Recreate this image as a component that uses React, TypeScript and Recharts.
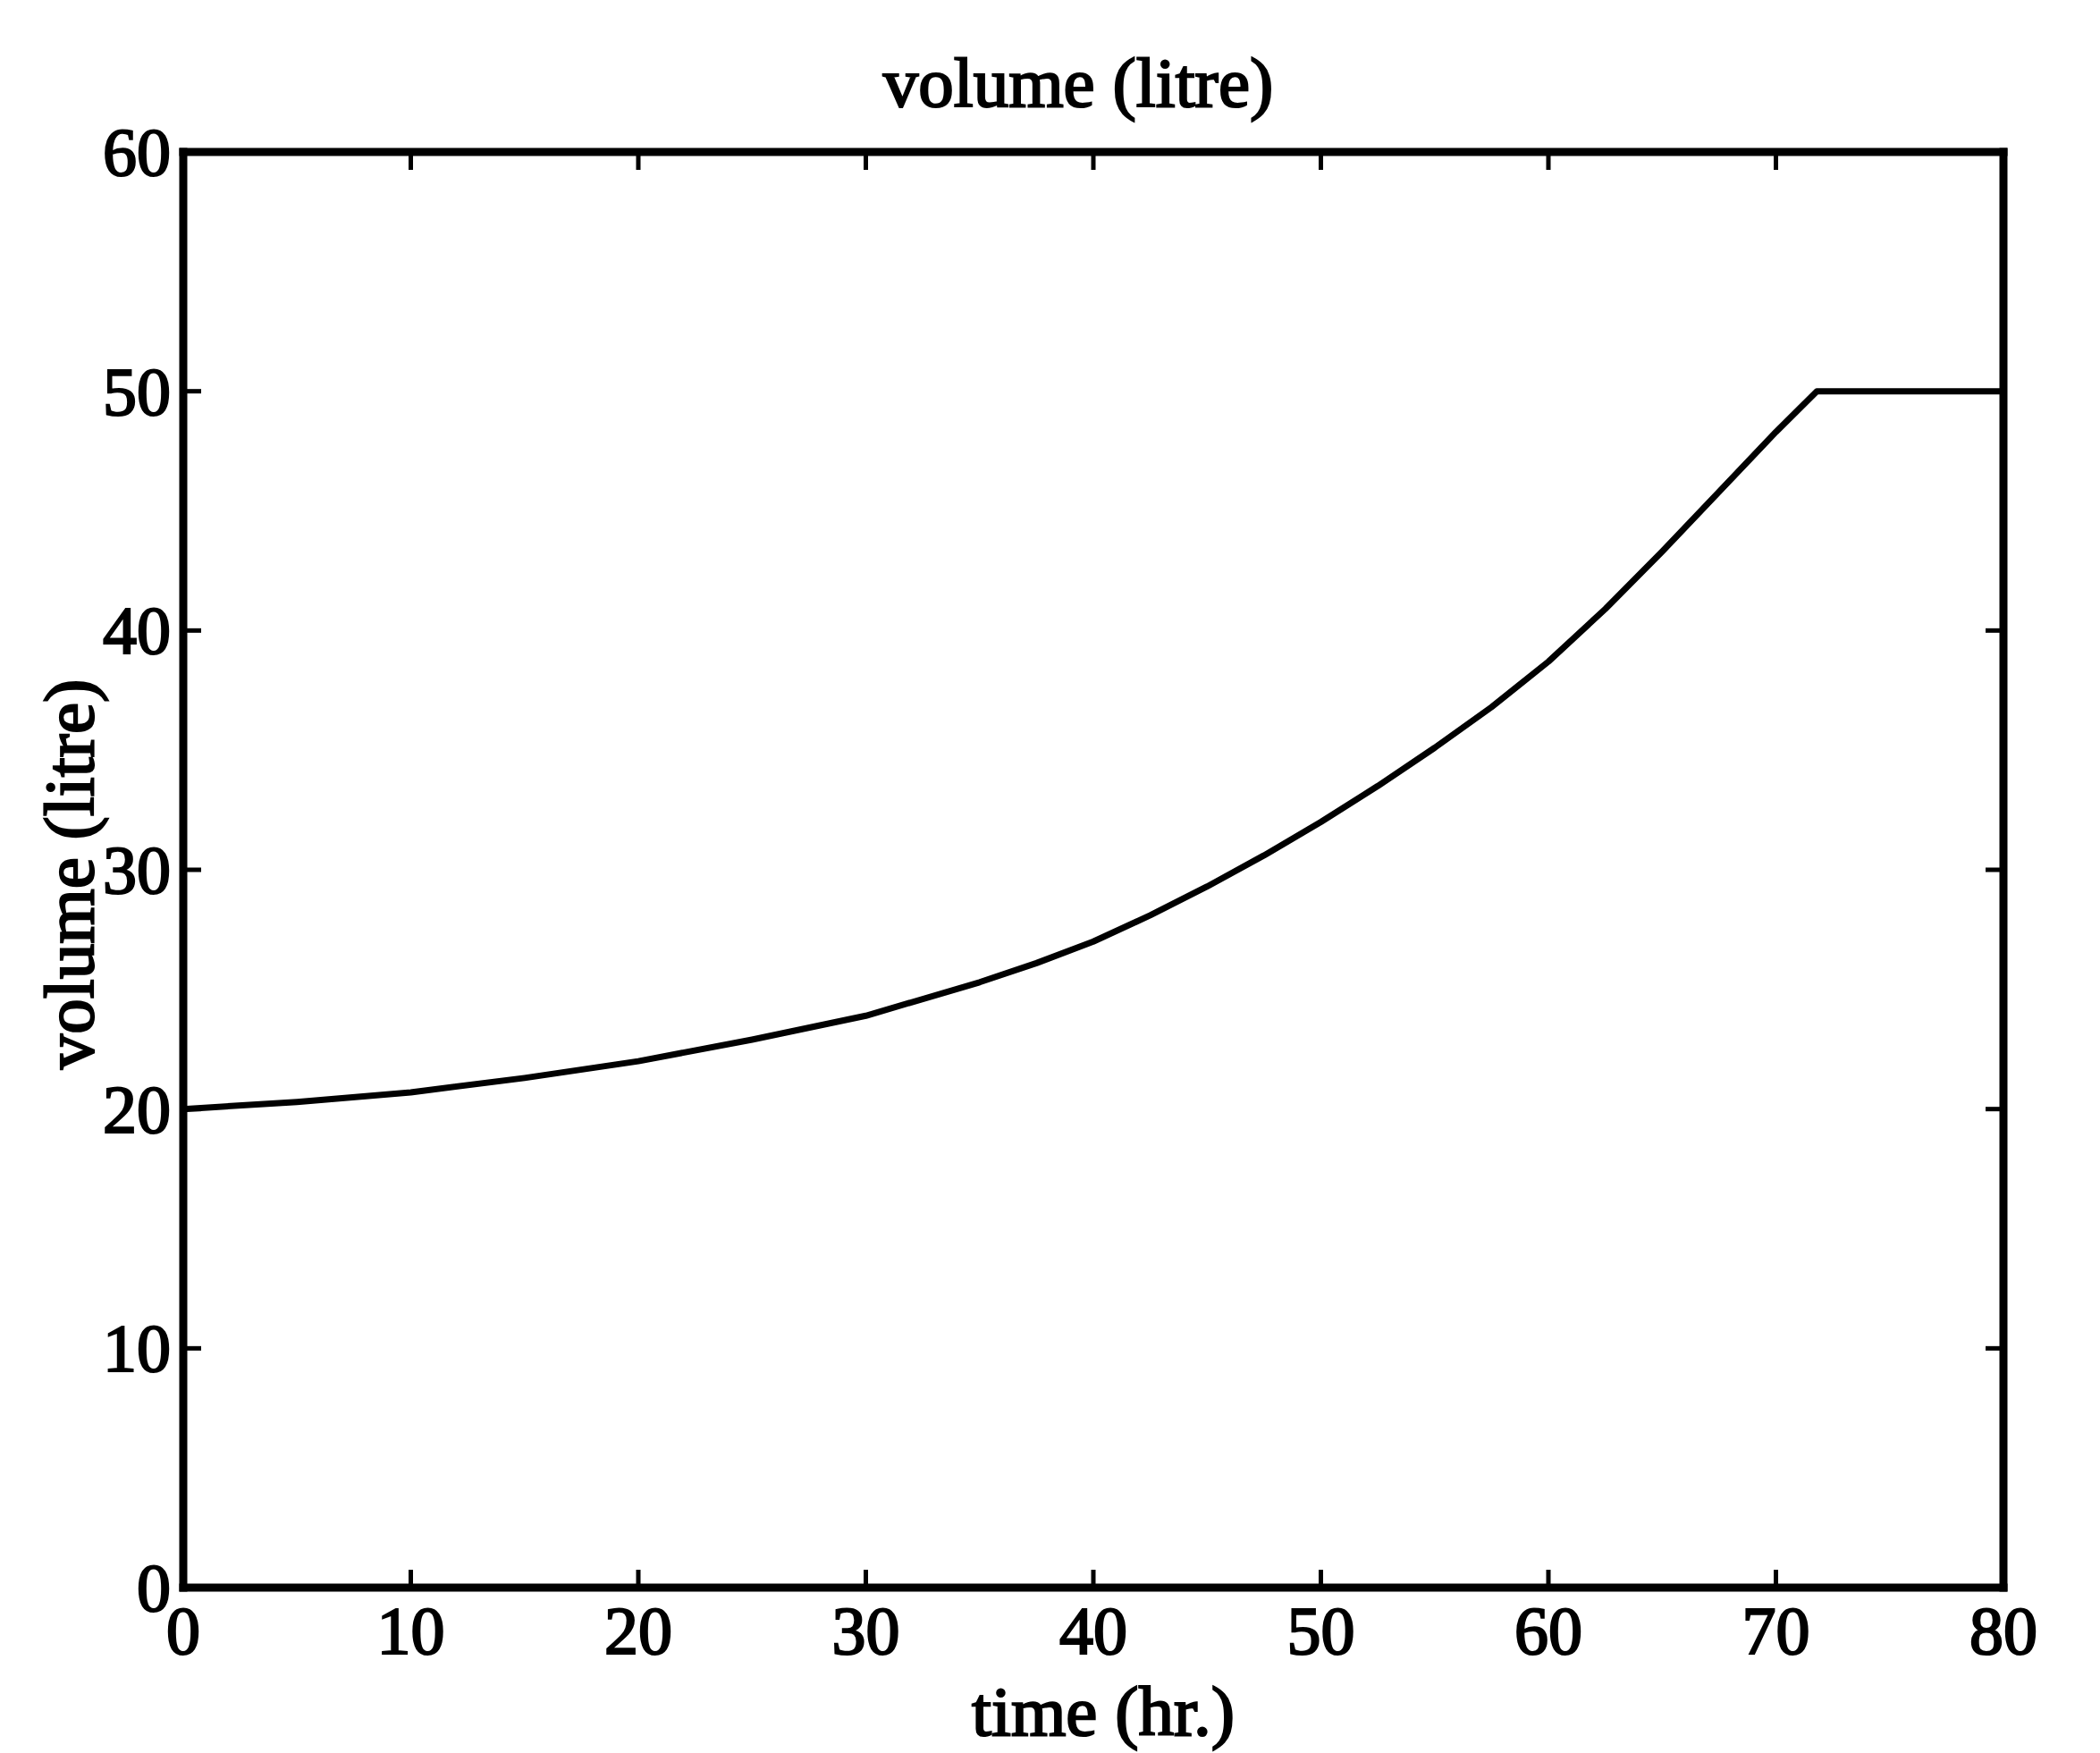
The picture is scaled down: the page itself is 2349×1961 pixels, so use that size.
import React from 'react';
import { LineChart, Line, XAxis, YAxis, Label } from 'recharts';

// time (hr.)
const timeHr = [0, 5, 10, 15, 20, 25, 30, 35, 37.5, 40, 42.5, 45, 47.5, 50, 52.5, 55, 57.5, 60, 62.5, 65, 67.5, 70, 71.8, 80];
// volume (litre)
const volumeL = [20.0, 20.3, 20.7, 21.3, 22.0, 22.9, 23.9, 25.3, 26.1, 27.0, 28.1, 29.3, 30.6, 32.0, 33.5, 35.1, 36.8, 38.7, 40.9, 43.3, 45.8, 48.3, 50.0, 50.0];

const xTicks = [0, 10, 20, 30, 40, 50, 60, 70, 80];
const yTicks = [0, 10, 20, 30, 40, 50, 60];

const titleText = 'volume (litre)';
const xLabelText = 'time (hr.)';
const yLabelText = 'volume (litre)';

const data = timeHr.map((t, i) => ({ t, v: volumeL[i] }));

const FONT = '"Liberation Serif", "Times New Roman", Times, serif';
const FS = 76;
const TICK_LEN = 20;
const textStyle = {
  fontFamily: FONT,
  fontSize: FS,
  fill: '#000',
  stroke: '#000',
  strokeWidth: 2.2,
};
const titleStyle = { ...textStyle, fontSize: 79 };

const BottomTick = (props: any) => {
  const { x, y, payload } = props;
  return (
    <g>
      <line x1={x} y1={y} x2={x} y2={y - TICK_LEN} stroke="#000" strokeWidth={5} />
      <text x={x} y={y + 74} textAnchor="middle" style={textStyle}>
        {payload.value}
      </text>
    </g>
  );
};

const TopTick = (props: any) => {
  const { x, y } = props;
  return <line x1={x} y1={y} x2={x} y2={y + TICK_LEN} stroke="#000" strokeWidth={5} />;
};

const LeftTick = (props: any) => {
  const { x, y, payload } = props;
  return (
    <g>
      <line x1={x} y1={y} x2={x + TICK_LEN} y2={y} stroke="#000" strokeWidth={5} />
      <text x={x - 14} y={y + 26} textAnchor="end" style={textStyle}>
        {payload.value}
      </text>
    </g>
  );
};

const RightTick = (props: any) => {
  const { x, y } = props;
  return <line x1={x} y1={y} x2={x - TICK_LEN} y2={y} stroke="#000" strokeWidth={5} />;
};

const axisLineStyle = { stroke: '#000', strokeWidth: 9, strokeLinecap: 'square' as const };

export default function App() {
  return (
    <div style={{ position: 'absolute', left: 0, top: 0, background: '#fff' }}>
      <LineChart
        width={2349}
        height={1961}
        data={data}
        margin={{ top: 169, right: 107, bottom: 0, left: 0 }}
      >
        <XAxis
          dataKey="t"
          type="number"
          domain={[0, 80]}
          ticks={xTicks}
          height={185}
          tickSize={0}
          tickMargin={0}
          tick={<BottomTick />}
          axisLine={axisLineStyle}
          tickLine={false}
          interval={0}
        >
          <Label
            content={(p: any) => {
              const vb = p.viewBox || { x: 205, y: 1776, width: 2036 };
              return (
                <text x={vb.x + vb.width / 2 + 11} y={vb.y + 165} textAnchor="middle" style={titleStyle}>
                  {xLabelText}
                </text>
              );
            }}
          />
        </XAxis>
        <XAxis
          xAxisId="top"
          dataKey="t"
          orientation="top"
          type="number"
          domain={[0, 80]}
          ticks={xTicks}
          height={1}
          tickSize={0}
          tickMargin={0}
          tick={<TopTick />}
          axisLine={axisLineStyle}
          tickLine={false}
          interval={0}
        >
          <Label
            content={(p: any) => {
              const vb = p.viewBox || { x: 205, y: 169, width: 2036 };
              return (
                <text x={vb.x + vb.width / 2 - 17} y={vb.y - 50} textAnchor="middle" style={titleStyle}>
                  {titleText}
                </text>
              );
            }}
          />
        </XAxis>
        <YAxis
          type="number"
          domain={[0, 60]}
          ticks={yTicks}
          width={205}
          tickSize={0}
          tickMargin={0}
          tick={<LeftTick />}
          axisLine={axisLineStyle}
          tickLine={false}
          interval={0}
        >
          <Label
            content={(p: any) => {
              const vb = p.viewBox || { x: 0, y: 170, height: 1606 };
              const cx = 104;
              const cy = vb.y + vb.height / 2 + 5;
              return (
                <text
                  x={cx}
                  y={cy}
                  textAnchor="middle"
                  transform={`rotate(-90, ${cx}, ${cy})`}
                  style={titleStyle}
                >
                  {yLabelText}
                </text>
              );
            }}
          />
        </YAxis>
        <YAxis
          yAxisId="right"
          orientation="right"
          type="number"
          domain={[0, 60]}
          ticks={yTicks}
          width={1}
          tickSize={0}
          tickMargin={0}
          tick={<RightTick />}
          axisLine={axisLineStyle}
          tickLine={false}
          interval={0}
        />
        <Line
          xAxisId="top"
          yAxisId="right"
          type="linear"
          dataKey="v"
          stroke="none"
          strokeOpacity={0}
          dot={false}
          activeDot={false}
          legendType="none"
          isAnimationActive={false}
        />
        <Line
          type="linear"
          dataKey="v"
          stroke="#000"
          strokeWidth={7}
          strokeLinejoin="round"
          dot={false}
          activeDot={false}
          isAnimationActive={false}
        />
      </LineChart>
    </div>
  );
}
